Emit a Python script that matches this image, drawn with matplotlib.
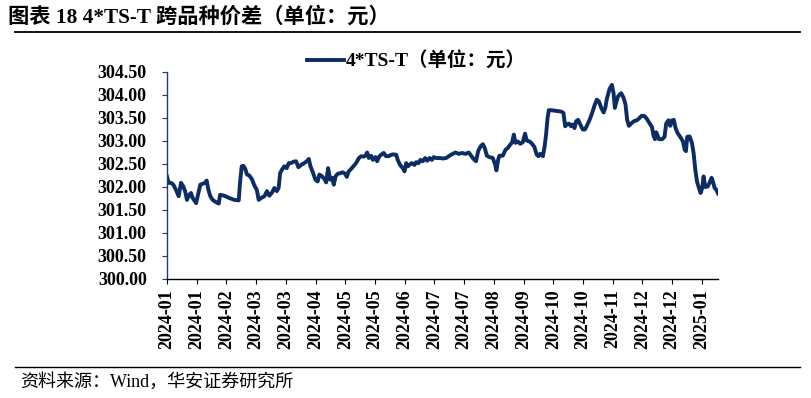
#!/usr/bin/env python
# coding: utf-8

#%% packages
import matplotlib as mpl
mpl.use('Agg')
import matplotlib.pyplot as plt
from matplotlib.lines import Line2D

mpl.rc('font', family=['Liberation Serif', 'Noto Sans CJK SC'])
mpl.rc('axes', unicode_minus=False)

#%% data (trading-day position, spread in yuan)

day = [0.0, 0.8, 1.9, 3.0, 4.2, 5.5, 6.6, 7.7, 8.6, 9.4,
       10.5, 11.3, 12.1, 13.7, 14.8, 15.7, 16.8, 17.9, 18.7, 19.5,
       20.4, 21.5, 23.1, 24.4, 25.0, 27.0, 29.4, 31.7, 33.8, 34.4,
       35.2, 36.0, 36.9, 37.7, 38.8, 40.1, 41.2, 42.3, 43.2, 44.3,
       45.9, 47.1, 48.2, 49.5, 50.6, 51.7, 52.6, 53.3, 54.2, 55.3,
       56.4, 57.4, 58.5, 59.6, 60.8, 61.9, 63.2, 64.7, 65.8, 66.8,
       67.6, 68.7, 69.9, 71.0, 71.8, 73.1, 74.2, 75.0, 75.9, 76.9,
       77.8, 78.6, 79.4, 80.5, 81.6, 82.8, 83.9, 84.7, 85.6, 86.7,
       87.8, 89.1, 90.4, 91.5, 92.6, 93.5, 94.3, 95.1, 96.2, 97.0,
       98.2, 99.0, 100.1, 101.4, 102.1, 103.2, 104.5, 105.6, 106.7, 108.0,
       108.7, 109.8, 111.1, 111.9, 112.7, 113.5, 114.2, 115.3, 116.6, 117.4,
       118.5, 119.4, 120.5, 121.6, 122.6, 123.7, 124.8, 125.7, 126.8, 128.4,
       130.0, 131.5, 133.1,
       134.6, 135.9, 137.5, 139.0, 140.6, 142.2, 143.3, 144.4, 145.6, 146.6,
       147.7, 148.8, 149.7, 150.7, 151.9, 153.5, 154.6, 155.2, 156.0, 156.6,
       158.2, 159.5, 160.6, 161.7, 162.6, 163.4, 164.2, 165.3, 166.4, 167.6,
       168.7, 169.5, 170.8, 172.0, 173.1, 174.2, 175.0, 175.8, 177.1, 177.9,
       178.6, 179.3, 179.9, 181.0, 182.6, 184.1, 185.7, 186.8, 187.6, 188.4,
       189.3, 190.4, 191.2, 192.0, 192.8, 193.7, 194.7, 195.9, 196.9, 197.8,
       199.1, 200.3, 201.4, 202.5, 203.5, 204.6, 205.7, 206.5, 207.2, 208.5,
       209.6, 210.4, 211.0, 211.6, 212.6, 214.0, 215.1, 216.0, 216.8, 217.6,
       218.7, 220.0, 221.4, 222.6, 223.7, 225.0, 226.1, 227.4, 228.5, 229.2,
       229.9, 230.5, 231.8, 233.3, 234.4, 235.2, 236.3, 237.1, 238.0, 238.8,
       239.6, 240.6, 241.8, 243.1, 243.9, 244.5, 245.1, 246.2, 247.3, 248.1,
       248.9, 249.7, 250.6, 251.4, 252.2, 252.8, 253.6, 254.7, 255.6, 256.6,
       257.2, 258.0, 258.8, 259.6]

spread = [302.23, 302.09, 302.09, 302.05, 301.94, 301.80, 302.09, 302.01, 301.90, 301.72,
          301.83, 301.87, 301.76, 301.65, 301.87, 302.05, 302.07, 302.09, 302.14, 301.94,
          301.80, 301.72, 301.67, 301.64, 301.83, 301.81, 301.76, 301.72, 301.71, 302.09,
          302.45, 302.46, 302.39, 302.27, 302.25, 302.16, 302.03, 301.94, 301.72, 301.76,
          301.80, 301.91, 301.81, 301.88, 301.98, 301.91, 301.98, 302.30, 302.38, 302.45,
          302.41, 302.52, 302.52, 302.55, 302.56, 302.43, 302.48, 302.52, 302.56, 302.61,
          302.45, 302.32, 302.16, 302.12, 302.27, 302.23, 302.17, 302.10, 302.41, 302.16,
          302.20, 302.05, 302.23, 302.29, 302.30, 302.32, 302.29, 302.22, 302.34, 302.39,
          302.45, 302.52, 302.63, 302.67, 302.66, 302.68, 302.75, 302.63, 302.68, 302.59,
          302.65, 302.56, 302.67, 302.72, 302.74, 302.67, 302.67, 302.70, 302.71, 302.70,
          302.59, 302.48, 302.41, 302.34, 302.52, 302.45, 302.48, 302.52, 302.48, 302.54,
          302.52, 302.59, 302.56, 302.63, 302.57, 302.63, 302.59, 302.65, 302.63, 302.63,
          302.62, 302.63, 302.68,
          302.72, 302.75, 302.72, 302.74, 302.72, 302.75, 302.68, 302.61, 302.56, 302.78,
          302.88, 302.93, 302.85, 302.68, 302.65, 302.63, 302.49, 302.36, 302.59, 302.68,
          302.68, 302.81, 302.85, 302.92, 302.97, 303.14, 302.96, 302.99, 302.94, 302.97,
          303.16, 303.01, 302.99, 302.94, 302.87, 302.70, 302.67, 302.72, 302.67, 302.88,
          303.14, 303.50, 303.67, 303.67, 303.66, 303.65, 303.64, 303.61, 303.32, 303.36,
          303.38, 303.32, 303.36, 303.28, 303.43, 303.46, 303.36, 303.25, 303.25, 303.33,
          303.46, 303.61, 303.77, 303.90, 303.86, 303.72, 303.62, 303.72, 303.91, 304.13,
          304.22, 304.04, 303.72, 303.83, 303.98, 304.04, 303.94, 303.80, 303.46, 303.33,
          303.38, 303.43, 303.45, 303.50, 303.55, 303.54, 303.48, 303.38, 303.30, 303.12,
          303.04, 303.19, 303.04, 303.04, 303.09, 303.38, 303.45, 303.33, 303.45, 303.46,
          303.28, 303.17, 303.09, 302.99, 302.81, 302.78, 303.09, 303.10, 302.96, 302.74,
          302.38, 302.12, 301.98, 301.87, 301.98, 302.23, 302.00, 302.01, 302.09, 302.20,
          302.12, 301.98, 301.94, 301.86]

# category axis labels, one every 14 trading days
tick_day = [0, 14, 28, 42, 56, 70, 84, 98, 112, 126, 140, 154, 168, 182, 196, 210, 224, 238, 252]
tick_labels = ['2024-01', '2024-01', '2024-02', '2024-03', '2024-03', '2024-04', '2024-05',
               '2024-05', '2024-06', '2024-07', '2024-07', '2024-08', '2024-09', '2024-10',
               '2024-10', '2024-11', '2024-12', '2024-12', '2025-01']

y_ticks = [300.0, 300.5, 301.0, 301.5, 302.0, 302.5, 303.0, 303.5, 304.0, 304.5]

series_name = '4*TS-T（单位：元）'
title = '图表 18 4*TS-T 跨品种价差（单位：元）'
source = '资料来源：Wind，华安证券研究所'

navy = '#0c2c64'

#%% figure

W, H = 811, 398
fig = plt.figure(figsize=(W / 100, H / 100), dpi=100)
ax = fig.add_axes([167 / W, 1 - 279 / H, (718 - 167) / W, (279 - 72) / H])

ax.plot(day, spread, color=navy, lw=2.8, solid_joinstyle='round', label=series_name)

ax.set_xlim(0, 259.6)
ax.set_ylim(300, 304.5)
ax.set_yticks(y_ticks)
ax.set_yticklabels(['%.2f' % v for v in y_ticks], fontsize=13, fontweight='bold')
ax.set_xticks(tick_day)
ax.set_xticklabels(tick_labels, rotation=90, fontsize=13, fontweight='bold')

for s in ['top', 'right']:
    ax.spines[s].set_visible(False)
ax.spines['left'].set_color('#1f3a6e')
ax.spines['bottom'].set_color('black')
ax.spines['left'].set_linewidth(1.0)
ax.spines['bottom'].set_linewidth(1.0)
ax.tick_params(axis='y', direction='out', length=3.6, color='#1f3a6e', pad=11)
ax.tick_params(axis='x', direction='out', length=3.6, color='black', pad=4)

leg = ax.legend(loc='center', bbox_to_anchor=(416 / W, 1 - 61 / H),
                bbox_transform=fig.transFigure, frameon=False,
                prop={'weight': 'bold', 'size': 14}, handlelength=1.9, handletextpad=0.1)

#%% title, rules and source
fig.text(8 / W, 1 - 17 / H, title, fontsize=15.3, fontweight='bold', va='center', ha='left')
fig.add_artist(Line2D([15 / W, 800 / W], [1 - 32 / H, 1 - 32 / H], color='black', lw=1.3))
fig.add_artist(Line2D([15 / W, 800 / W], [1 - 367 / H, 1 - 367 / H], color='black', lw=1.0))
fig.text(20 / W, 1 - 382 / H, source, fontsize=13, va='center', ha='left')

fig.savefig('out.png', dpi=100)
